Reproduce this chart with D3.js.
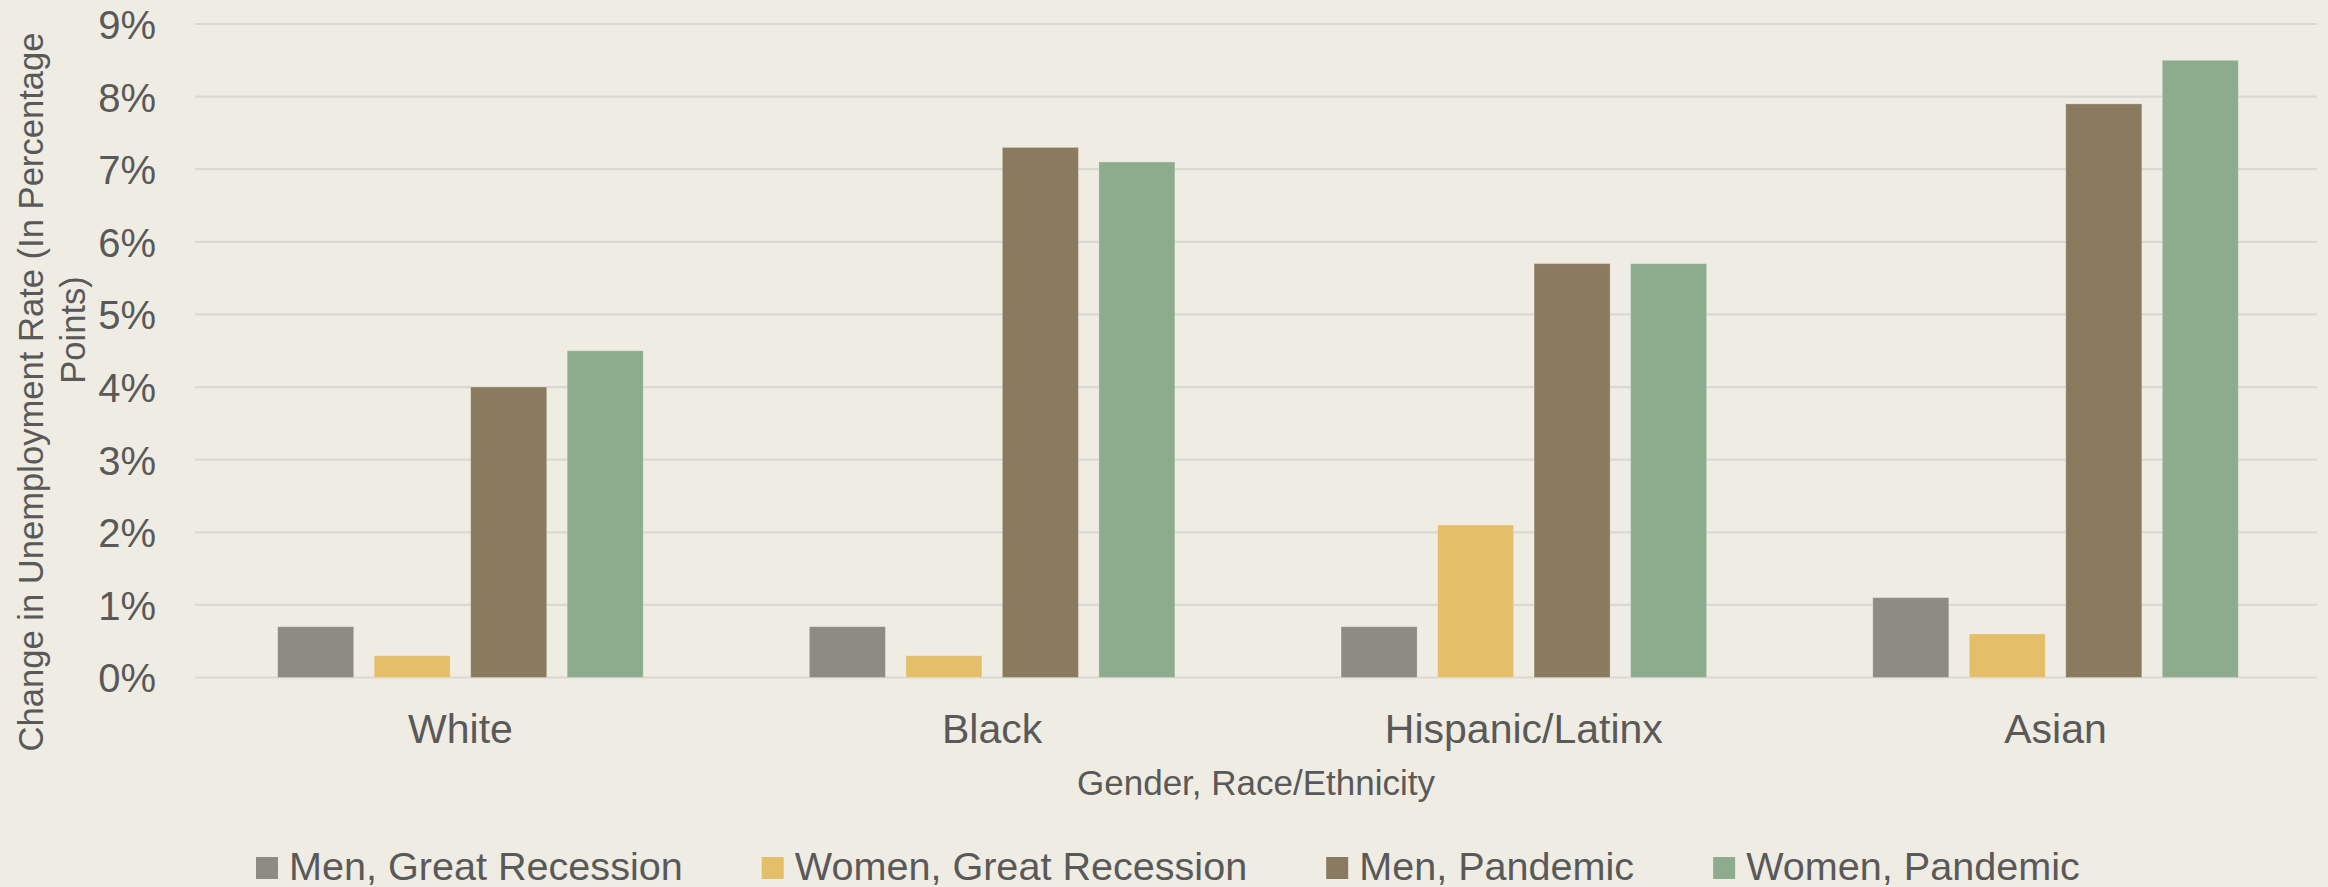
<!DOCTYPE html>
<html>
<head>
<meta charset="utf-8">
<script src="https://cdn.jsdelivr.net/npm/d3@7"></script>
<style>
  html, body { margin: 0; padding: 0; background: #efece3; }
  svg { display: block; }
  text { font-family: "Liberation Sans", Arial, sans-serif; fill: #595959; }
</style>
</head>
<body>
<svg id="chart" width="2328" height="887"></svg>
<script>
const categories = ["White", "Black", "Hispanic/Latinx", "Asian"];
const seriesNames = ["Men, Great Recession", "Women, Great Recession", "Men, Pandemic", "Women, Pandemic"];
const seriesColors = ["#8c8c84", "#e5be69", "#8a7b5f", "#8dac8e"];
const menGreatRecession   = [0.7, 0.7, 0.7, 1.1];
const womenGreatRecession = [0.3, 0.3, 2.1, 0.6];
const menPandemic         = [4.0, 7.3, 5.7, 7.9];
const womenPandemic       = [4.5, 7.1, 5.7, 8.5];
const yTicks = [0, 1, 2, 3, 4, 5, 6, 7, 8, 9];
const yTitleLines = ["Change in Unemployment Rate (In Percentage", "Points)"];
const xTitle = "Gender, Race/Ethnicity";

const seriesValues = [menGreatRecession, womenGreatRecession, menPandemic, womenPandemic];
const data = categories.map((c, i) => ({
  category: c,
  values: seriesNames.map((s, j) => ({ series: s, idx: j, value: seriesValues[j][i] }))
}));

const svg = d3.select("#chart");
const plot = { left: 195, right: 2317, top: 24, bottom: 677.5 };

const x0 = d3.scaleBand().domain(categories).range([194.6, 2321.4])
  .paddingInner(0.3125).paddingOuter(0.15625);
const x1 = d3.scaleBand().domain(seriesNames).range([0, x0.bandwidth()])
  .paddingInner(0.212).paddingOuter(0);
const y = d3.scaleLinear().domain([0, 9]).range([plot.bottom, plot.top]);

// gridlines
svg.append("g").selectAll("line").data(yTicks).join("line")
  .attr("x1", plot.left).attr("x2", plot.right)
  .attr("y1", d => y(d)).attr("y2", d => y(d))
  .attr("stroke", "#d9d8d3").attr("stroke-width", 2.2);

// y axis labels
const yAxis = d3.axisLeft(y).tickValues(yTicks).tickFormat(d => d + "%").tickSize(0).tickPadding(39);
const gy = svg.append("g").attr("transform", `translate(${plot.left},0)`).call(yAxis);
gy.select(".domain").remove();
gy.selectAll("text").style("font-size", "40px").attr("fill", "#595959")
  .attr("dy", "0.36em").attr("x", -39);

// bars
const groups = svg.append("g").selectAll("g").data(data).join("g")
  .attr("transform", d => `translate(${x0(d.category)},0)`);
groups.selectAll("rect").data(d => d.values).join("rect")
  .attr("x", d => x1(d.series))
  .attr("width", x1.bandwidth())
  .attr("y", d => y(d.value))
  .attr("height", d => y(0) - y(d.value))
  .attr("fill", d => seriesColors[d.idx])
  .attr("stroke", "rgba(255,255,255,0.25)").attr("stroke-width", 1);

// x axis labels
const xAxis = d3.axisBottom(x0).tickSize(0).tickPadding(0);
const gx = svg.append("g").attr("transform", `translate(0,${plot.bottom})`).call(xAxis);
gx.select(".domain").remove();
gx.selectAll("text").style("font-size", "41px").attr("fill", "#595959")
  .attr("dy", null).attr("y", 743 - plot.bottom);

// x title
svg.append("text").attr("x", (plot.left + plot.right) / 2).attr("y", 795)
  .attr("text-anchor", "middle").style("font-size", "35px").text(xTitle);

// y title
const yTitlePos = [{ x: 43, y: 392 }, { x: 85, y: 330 }];
yTitleLines.forEach((t, i) => {
  svg.append("text")
    .attr("transform", `translate(${yTitlePos[i].x},${yTitlePos[i].y}) rotate(-90)`)
    .attr("text-anchor", "middle").style("font-size", "34.6px").text(t);
});

// legend
const legend = svg.append("g");
let lx = 256;
seriesNames.forEach((s, i) => {
  legend.append("rect").attr("x", lx).attr("y", 857).attr("width", 22).attr("height", 22)
    .attr("fill", seriesColors[i]);
  const t = legend.append("text").attr("x", lx + 33).attr("y", 880)
    .style("font-size", "39.6px").text(s);
  lx += 33 + t.node().getComputedTextLength() + 79;
});
</script>
</body>
</html>
